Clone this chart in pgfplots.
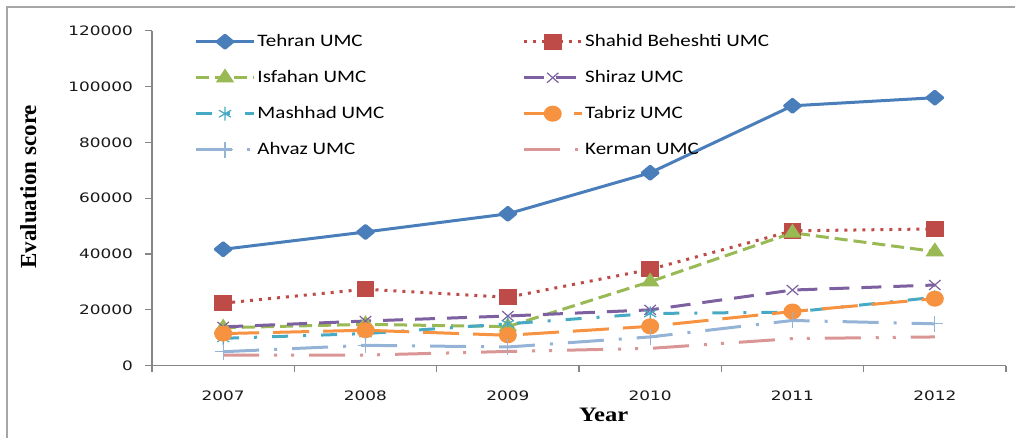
\documentclass[border=0pt]{standalone}
\usepackage{pgfplots}
\pgfplotsset{compat=1.18}
\usepackage{fontspec}
\setmainfont{Carlito}
\newfontfamily\legfont{Carlito}[FakeStretch=1.2]
\newfontfamily\tickfont{DejaVu Sans}[FakeStretch=1.3]
\newfontfamily\xlabfont{Liberation Serif}[FakeStretch=1.2]
\newfontfamily\ylabfont{Liberation Serif}

\definecolor{tehran}{HTML}{4A7EBB}
\definecolor{shahid}{HTML}{BE4B48}
\definecolor{isfahan}{HTML}{98B954}
\definecolor{shiraz}{HTML}{7D60A0}
\definecolor{mashhad}{HTML}{46AAC5}
\definecolor{tabriz}{HTML}{F69240}
\definecolor{ahvaz}{HTML}{95B3D7}
\definecolor{kerman}{HTML}{DA9694}
\definecolor{axisgray}{HTML}{868686}
\definecolor{framegray}{HTML}{A6A6A6}

\pgfplotstableread{
year tehran shahid isfahan shiraz mashhad tabriz ahvaz kerman
2007 41700 22400 13600 13900 9800  11500 5000  3800
2008 47900 27400 14800 16000 11500 12700 7300  3800
2009 54400 24500 14000 17800 15000 10900 6700  5100
2010 69100 34500 30100 20000 18700 14100 10300 6200
2011 93100 48300 47600 27100 19200 19400 16200 9700
2012 96000 49000 40900 28900 24500 24000 15000 10300
}\datatable

\begin{document}
\begin{tikzpicture}
\begin{axis}[
  at={(152pt,72.3pt)}, anchor=south west,
  scale only axis, width=854pt, height=335pt,
  xmin=2006.5, xmax=2012.5, ymin=0, ymax=120000,
  xtick={2007,2008,2009,2010,2011,2012},
  xticklabels={2007,2008,2009,2010,2011,2012},
  minor xtick={2006.5,2007.5,2008.5,2009.5,2010.5,2011.5,2012.5},
  ytick={0,20000,40000,60000,80000,100000,120000},
  yticklabels={0,20000,40000,60000,80000,100000,120000},
  axis x line*=bottom, axis y line*=left,
  axis line style={-, draw=axisgray, line width=1.2pt},
  every tick/.style={draw=axisgray, line width=1.2pt},
  major x tick style={draw=none},
  tick align=outside,
  major tick length=7pt, minor tick length=6pt,
  scaled y ticks=false,
  tick label style={font=\tickfont\fontsize{13}{15}\selectfont, text=black!90},
  xticklabel shift=14.5pt,
  yticklabel shift=8.5pt,
  xlabel={Year},
  xlabel style={at={(axis description cs:0.529,-0.146)}, anchor=center,
     font=\xlabfont\bfseries\fontsize{20.5}{24}\selectfont},
  ylabel={Evaluation score},
  ylabel style={at={(axis description cs:-0.145,0.534)}, anchor=center,
     font=\ylabfont\bfseries\fontsize{23}{26}\selectfont},
  legend columns=2,
  legend cell align=left,
  legend style={at={(axis description cs:0.046,1.002)}, anchor=north west,
     draw=none, fill=none, font=\legfont\fontsize{17.5}{20}\selectfont,
     nodes={inner sep=2pt, text height=12pt, text depth=3pt},
     row sep=17pt,
     /tikz/every odd column/.append style={column sep=0pt},
     /tikz/every even column/.append style={column sep=136pt}},
  legend image code/.code={\draw[mark repeat=2,mark phase=2] plot coordinates {(0pt,0pt) (29pt,0pt) (58pt,0pt)};},
  clip=false,
]
\addplot[color=tehran, line width=3pt, line join=round, mark=diamond*, mark size=6.5pt, mark options={solid, xscale=1.6}]
  table[x=year, y=tehran] {\datatable};
\addlegendentry{Tehran UMC}
\addplot[color=shahid, line width=3pt, dash pattern=on 3pt off 6pt, mark=square*, mark size=6.5pt, mark options={solid, xscale=1.15}]
  table[x=year, y=shahid] {\datatable};
\addlegendentry{Shahid Beheshti UMC}
\addplot[color=isfahan, line width=3pt, dash pattern=on 13pt off 6pt, mark=triangle*, mark size=6.5pt, mark options={solid, xscale=1.15}]
  table[x=year, y=isfahan] {\datatable};
\addlegendentry{Isfahan UMC}
\addplot[color=shiraz, line width=3pt, dash pattern=on 20pt off 12pt, mark=x, mark size=7pt, mark options={solid, line width=1.2pt, xscale=1.15}]
  table[x=year, y=shiraz] {\datatable};
\addlegendentry{Shiraz UMC}
\addplot[color=mashhad, line width=3pt, dash pattern=on 16pt off 15pt on 3pt off 15pt, mark=asterisk, mark size=7pt, mark options={solid, line width=1.2pt}]
  table[x=year, y=mashhad] {\datatable};
\addlegendentry{Mashhad UMC}
\addplot[color=tabriz, line width=3pt, dash pattern=on 36pt off 14pt, mark=*, mark size=6.5pt, mark options={solid, xscale=1.15}]
  table[x=year, y=tabriz] {\datatable};
\addlegendentry{Tabriz UMC}
\addplot[color=ahvaz, line width=3pt, dash pattern=on 36pt off 15pt on 3pt off 15pt, mark=+, mark size=8pt, mark options={solid, line width=1.2pt}]
  table[x=year, y=ahvaz] {\datatable};
\addlegendentry{Ahvaz UMC}
\addplot[color=kerman, line width=3pt, dash pattern=on 36pt off 15pt on 3pt off 14pt on 3pt off 15pt, mark=none]
  table[x=year, y=kerman] {\datatable};
\addlegendentry{Kerman UMC}
\end{axis}
\draw[draw=framegray, line width=2pt] (7pt,0pt) -- (7pt,431pt) -- (1015pt,431pt);
\pgfresetboundingbox
\useasboundingbox (0pt,0pt) rectangle (1015pt,438pt);
\end{tikzpicture}
\end{document}
